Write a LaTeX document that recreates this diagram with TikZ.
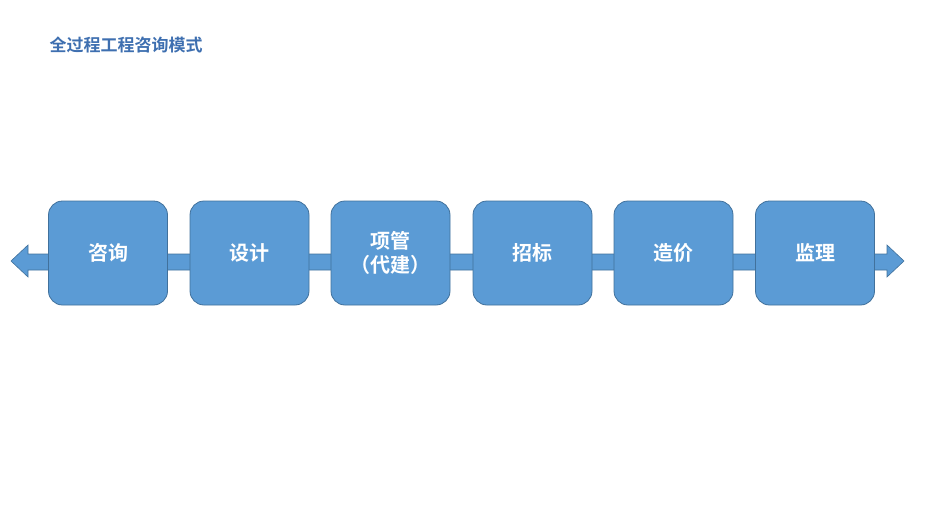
\documentclass[tikz,border=0pt]{standalone}
\usepackage{fontspec}
\newfontfamily\cjk{Noto Sans CJK SC}
\newfontfamily\cjkb{Noto Sans CJK SC Bold}
\definecolor{fillb}{HTML}{5B9BD5}
\definecolor{edgeb}{HTML}{41719C}
\definecolor{titleb}{HTML}{3E6FB0}
\begin{document}
\begin{tikzpicture}[x=1pt,y=-1pt,
  stage/.style={draw=edgeb,fill=fillb,line width=0.8pt,rounded corners=14pt,minimum width=119pt,minimum height=104pt,inner sep=0pt,text=white,font=\cjkb\fontsize{20}{24}\selectfont,align=center}]
\useasboundingbox (0,0) rectangle (943,520);
\fill[fillb,draw=edgeb,line width=0.6pt] (11,261) -- (28,245) -- (28,254) -- (887,254) -- (887,245) -- (904,261) -- (887,277) -- (887,270) -- (28,270) -- (28,277) -- cycle;
\node[anchor=west,text=titleb,font=\cjkb\fontsize{17}{20}\selectfont] (title) at (46,45) {全过程工程咨询模式};
\node[stage] (a) at (108,253) {咨询};
\node[stage] (b) at (249.5,253) {设计};
\node[stage] (c) at (390.5,253) {项管\\（代建）};
\node[stage] (d) at (532.5,253) {招标};
\node[stage] (e) at (673.5,253) {造价};
\node[stage] (f) at (815,253) {监理};
\end{tikzpicture}
\end{document}
